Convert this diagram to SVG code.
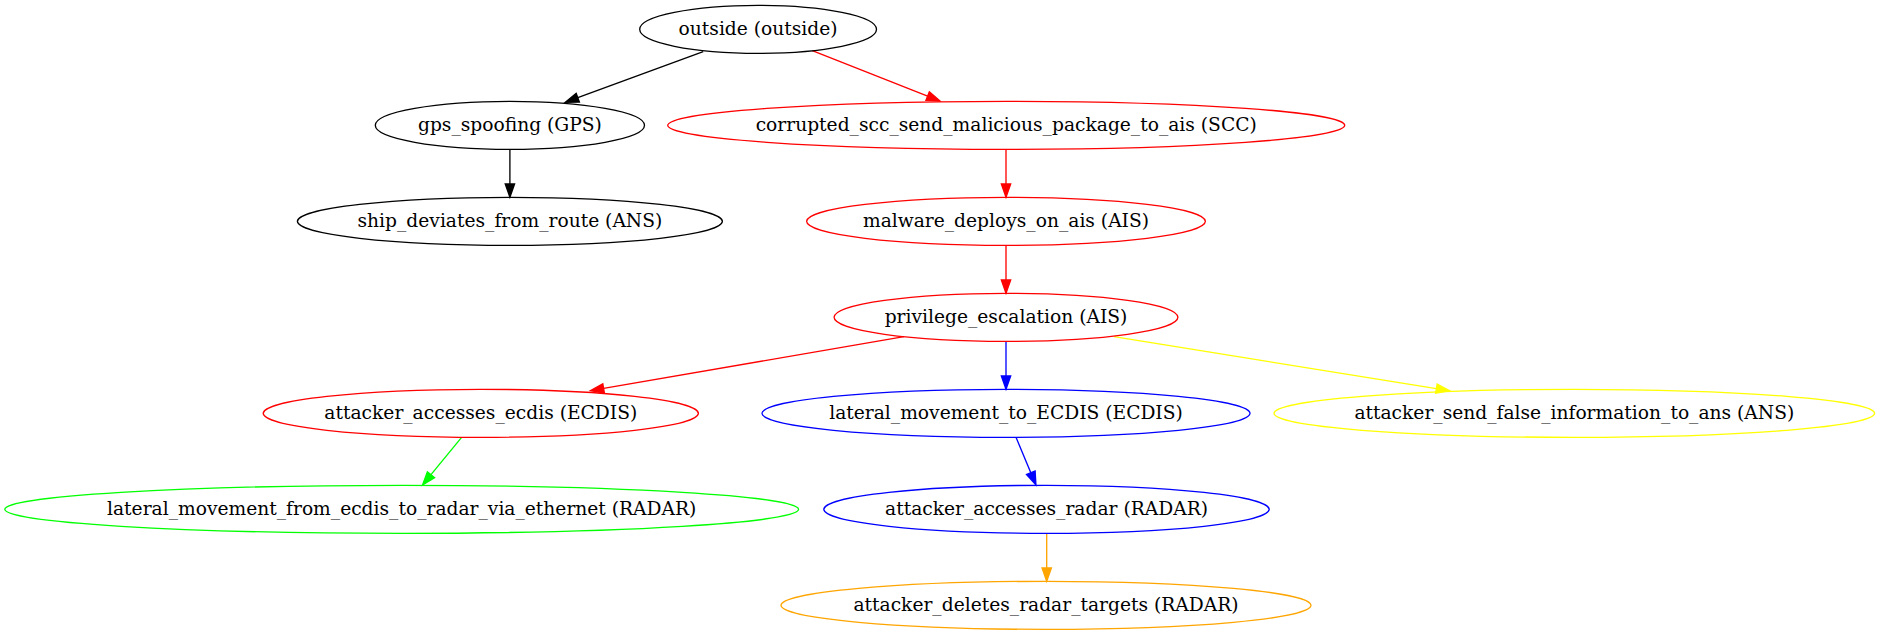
<svg xmlns="http://www.w3.org/2000/svg" width="1879" height="635" viewBox="0 0 1879 635">
<style>
.n ellipse{fill:none;stroke-width:1.33}
.n text{font-family:'DejaVu Serif',serif;font-size:18.67px;text-anchor:middle;fill:#000}
#edges path{fill:none;stroke-width:1.33}
</style>
<defs>
<marker id="ak" markerUnits="userSpaceOnUse" orient="auto" refX="0" refY="0" markerWidth="20" markerHeight="20" overflow="visible"><path d="M0,-4.67 L13.33,0 L0,4.67 Z" fill="#000" stroke="#000" stroke-width="1.33"/></marker>
<marker id="ar" markerUnits="userSpaceOnUse" orient="auto" refX="0" refY="0" markerWidth="20" markerHeight="20" overflow="visible"><path d="M0,-4.67 L13.33,0 L0,4.67 Z" fill="#f00" stroke="#f00" stroke-width="1.33"/></marker>
<marker id="ab" markerUnits="userSpaceOnUse" orient="auto" refX="0" refY="0" markerWidth="20" markerHeight="20" overflow="visible"><path d="M0,-4.67 L13.33,0 L0,4.67 Z" fill="#00f" stroke="#00f" stroke-width="1.33"/></marker>
<marker id="ay" markerUnits="userSpaceOnUse" orient="auto" refX="0" refY="0" markerWidth="20" markerHeight="20" overflow="visible"><path d="M0,-4.67 L13.33,0 L0,4.67 Z" fill="#ff0" stroke="#ff0" stroke-width="1.33"/></marker>
<marker id="ag" markerUnits="userSpaceOnUse" orient="auto" refX="0" refY="0" markerWidth="20" markerHeight="20" overflow="visible"><path d="M0,-4.67 L13.33,0 L0,4.67 Z" fill="#0f0" stroke="#0f0" stroke-width="1.33"/></marker>
<marker id="ao" markerUnits="userSpaceOnUse" orient="auto" refX="0" refY="0" markerWidth="20" markerHeight="20" overflow="visible"><path d="M0,-4.67 L13.33,0 L0,4.67 Z" fill="#ffa500" stroke="#ffa500" stroke-width="1.33"/></marker>
</defs>
<rect width="1879" height="635" fill="#fff"/>
<g id="edges">
<path d="M703.2,51.7 L577.8,97.7" stroke="#000" marker-end="url(#ak)"/>
<path d="M812.3,50.7 L927.6,96.1" stroke="#f00" marker-end="url(#ar)"/>
<path d="M509.9,149.33 L509.9,184" stroke="#000" marker-end="url(#ak)"/>
<path d="M1006,149.33 L1006,184" stroke="#f00" marker-end="url(#ar)"/>
<path d="M1006,245.33 L1006,280" stroke="#f00" marker-end="url(#ar)"/>
<path d="M904,336.7 L603.6,388.4" stroke="#f00" marker-end="url(#ar)"/>
<path d="M1006,341.33 L1006,376" stroke="#00f" marker-end="url(#ab)"/>
<path d="M1113.9,336.7 L1436.4,388.6" stroke="#ff0" marker-end="url(#ay)"/>
<path d="M461.6,437.3 L431,474.7" stroke="#0f0" marker-end="url(#ag)"/>
<path d="M1016,437.3 L1030.8,472.7" stroke="#00f" marker-end="url(#ab)"/>
<path d="M1046.7,533.33 L1046.7,568" stroke="#ffa500" marker-end="url(#ao)"/>
</g>
<g id="outside" class="n"><ellipse cx="758.1" cy="29.33" rx="118.4" ry="24" stroke="#000"/><text x="758.1" y="34.93">outside (outside)</text></g>
<g id="gps_spoofing" class="n"><ellipse cx="509.9" cy="125.33" rx="134.6" ry="24" stroke="#000"/><text x="509.9" y="130.93">gps_spoofing (GPS)</text></g>
<g id="ship_deviates_from_route" class="n"><ellipse cx="509.9" cy="221.33" rx="212.5" ry="24" stroke="#000"/><text x="509.9" y="226.93">ship_deviates_from_route (ANS)</text></g>
<g id="corrupted_scc_send_malicious_package_to_ais" class="n"><ellipse cx="1006.2" cy="125.33" rx="338.5" ry="24" stroke="#f00"/><text x="1006.2" y="130.93">corrupted_scc_send_malicious_package_to_ais (SCC)</text></g>
<g id="malware_deploys_on_ais" class="n"><ellipse cx="1006" cy="221.33" rx="199.4" ry="24" stroke="#f00"/><text x="1006" y="226.93">malware_deploys_on_ais (AIS)</text></g>
<g id="privilege_escalation" class="n"><ellipse cx="1006" cy="317.33" rx="171.9" ry="24" stroke="#f00"/><text x="1006" y="322.93">privilege_escalation (AIS)</text></g>
<g id="attacker_accesses_ecdis" class="n"><ellipse cx="480.8" cy="413.33" rx="217.6" ry="24" stroke="#f00"/><text x="480.8" y="418.93">attacker_accesses_ecdis (ECDIS)</text></g>
<g id="lateral_movement_to_ECDIS" class="n"><ellipse cx="1006" cy="413.33" rx="244" ry="24" stroke="#00f"/><text x="1006" y="418.93">lateral_movement_to_ECDIS (ECDIS)</text></g>
<g id="attacker_send_false_information_to_ans" class="n"><ellipse cx="1574.3" cy="413.33" rx="300.3" ry="24" stroke="#ff0"/><text x="1574.3" y="418.93">attacker_send_false_information_to_ans (ANS)</text></g>
<g id="lateral_movement_from_ecdis_to_radar_via_ethernet" class="n"><ellipse cx="401.7" cy="509.33" rx="396.9" ry="24" stroke="#0f0"/><text x="401.7" y="514.93">lateral_movement_from_ecdis_to_radar_via_ethernet (RADAR)</text></g>
<g id="attacker_accesses_radar" class="n"><ellipse cx="1046.5" cy="509.33" rx="222.7" ry="24" stroke="#00f"/><text x="1046.5" y="514.93">attacker_accesses_radar (RADAR)</text></g>
<g id="attacker_deletes_radar_targets" class="n"><ellipse cx="1046" cy="605.33" rx="265" ry="24" stroke="#ffa500"/><text x="1046" y="610.93">attacker_deletes_radar_targets (RADAR)</text></g>
</svg>
